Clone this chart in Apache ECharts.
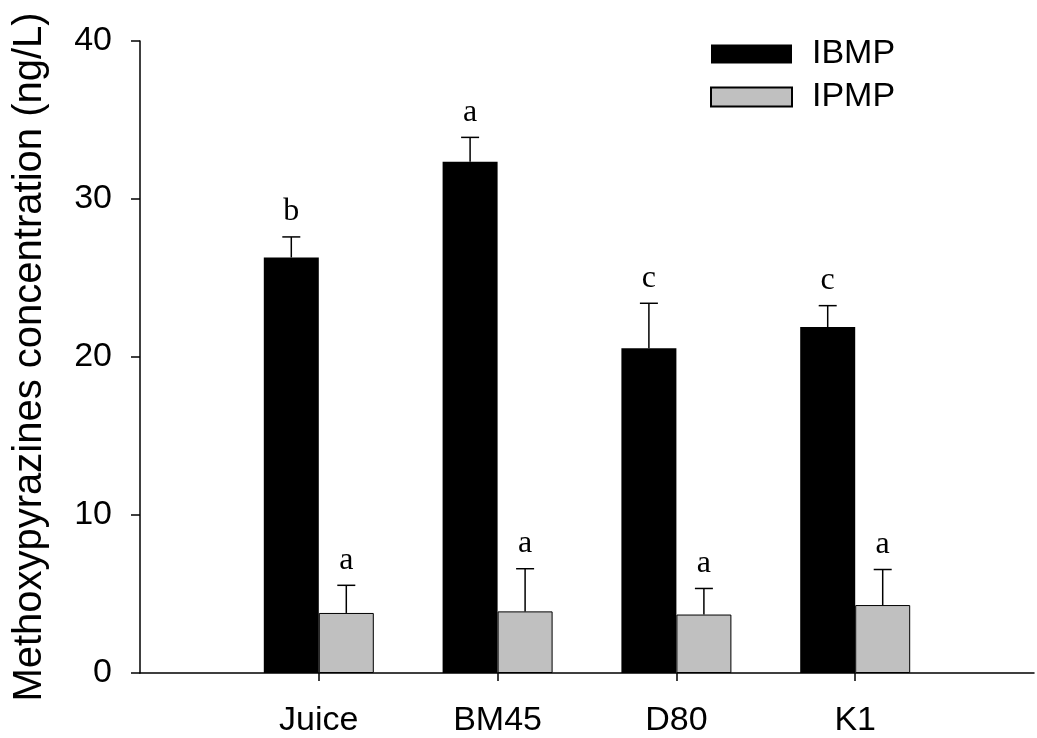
<!DOCTYPE html>
<html>
<head>
<meta charset="utf-8">
<script src="https://cdn.jsdelivr.net/npm/echarts@6/dist/echarts.min.js"></script>
<style>
    html, body { margin: 0; padding: 0; background: #fff; }
    #chart { width: 1037px; height: 738px; }
</style>
</head>
<body>
<div id="chart"></div>
<script>
// values (ng/L)
var groups = ['Juice', 'BM45', 'D80', 'K1'];
var ibmpMean = [26.3, 32.35, 20.55, 21.9];
var ibmpErr = [1.3, 1.55, 2.85, 1.35];
var ipmpMean = [3.8, 3.9, 3.7, 4.3];
var ipmpErr = [1.75, 2.7, 1.65, 2.25];
var ibmpLetters = ['b', 'a', 'c', 'c'];
var ipmpLetters = ['a', 'a', 'a', 'a'];

var sans = "'Liberation Sans', Arial, sans-serif";
var serif = "'Liberation Serif', 'Times New Roman', serif";

// empty slot at each end so the groups sit where the original puts them
var cats = [''].concat(groups, ['']);
var pad = function (arr) {
    return ['-'].concat(arr, ['-']);
};
var errData = function (mean, err) {
    return mean.map(function (m, i) {
        return [i + 1, m, err[i]];
    });
};

var errRenderer = function (offset, letters) {
    return function (params, api) {
        var p = api.coord([api.value(0), api.value(1)]);
        var top = api.coord([api.value(0), api.value(1) + api.value(2)]);
        var x = p[0] + offset;
        return {
            type: 'group',
            children: [{
                type: 'line',
                shape: {x1: x, y1: p[1], x2: x, y2: top[1]},
                style: {stroke: '#000', lineWidth: 1.5}
            }, {
                type: 'line',
                shape: {x1: x - 9, y1: top[1], x2: x + 9, y2: top[1]},
                style: {stroke: '#000', lineWidth: 1.5}
            }, {
                type: 'text',
                x: x,
                y: top[1] - 25,
                style: {
                    text: letters[params.dataIndex],
                    fill: '#000',
                    font: '32px ' + serif,
                    align: 'center',
                    verticalAlign: 'middle'
                }
            }]
        };
    };
};

var myChart = echarts.init(document.getElementById('chart'));
var option = {
    animation: false,
    backgroundColor: '#fff',
    grid: {left: 140, right: -13, top: 41, bottom: 61},
    legend: {
        orient: 'vertical',
        left: 705,
        top: 32,
        itemWidth: 81,
        itemHeight: 19,
        itemGap: 9,
        icon: 'rect',
        textStyle: {
            fontFamily: sans,
            fontSize: 34,
            lineHeight: 34,
            color: '#000',
            padding: [0, 0, 0, 15]
        },
        data: ['IBMP', 'IPMP']
    },
    xAxis: {
        type: 'category',
        data: cats,
        boundaryGap: false,
        axisLine: {lineStyle: {color: '#000', width: 1.5}},
        axisTick: {
            length: 8,
            lineStyle: {color: '#000', width: 1.5},
            interval: function (index) {
                return index >= 1 && index <= groups.length;
            }
        },
        axisLabel: {
            interval: 0,
            margin: 31,
            fontFamily: sans,
            fontSize: 34,
            color: '#000'
        },
        splitLine: {show: false}
    },
    yAxis: {
        type: 'value',
        min: 0,
        max: 40,
        interval: 10,
        name: 'Methoxypyrazines concentration (ng/L)',
        nameLocation: 'middle',
        nameGap: 90,
        nameTextStyle: {fontFamily: sans, fontSize: 40, color: '#000'},
        axisLine: {show: true, lineStyle: {color: '#000', width: 1.5}},
        axisTick: {show: true, length: 9, lineStyle: {color: '#000', width: 1.5}},
        axisLabel: {margin: 28, fontFamily: sans, fontSize: 34, color: '#000'},
        splitLine: {show: false}
    },
    series: [{
        name: 'IBMP',
        type: 'bar',
        barWidth: 55,
        barGap: '0%',
        data: pad(ibmpMean),
        itemStyle: {color: '#000'}
    }, {
        name: 'IPMP',
        type: 'bar',
        barWidth: 55,
        barGap: '0%',
        data: pad(ipmpMean),
        itemStyle: {color: '#c0c0c0', borderColor: '#000', borderWidth: 1}
    }, {
        type: 'custom',
        renderItem: errRenderer(-27.5, ibmpLetters),
        data: errData(ibmpMean, ibmpErr),
        z: 5
    }, {
        type: 'custom',
        renderItem: errRenderer(27.5, ipmpLetters),
        data: errData(ipmpMean, ipmpErr),
        z: 5
    }]
};
myChart.setOption(option);
</script>
</body>
</html>
